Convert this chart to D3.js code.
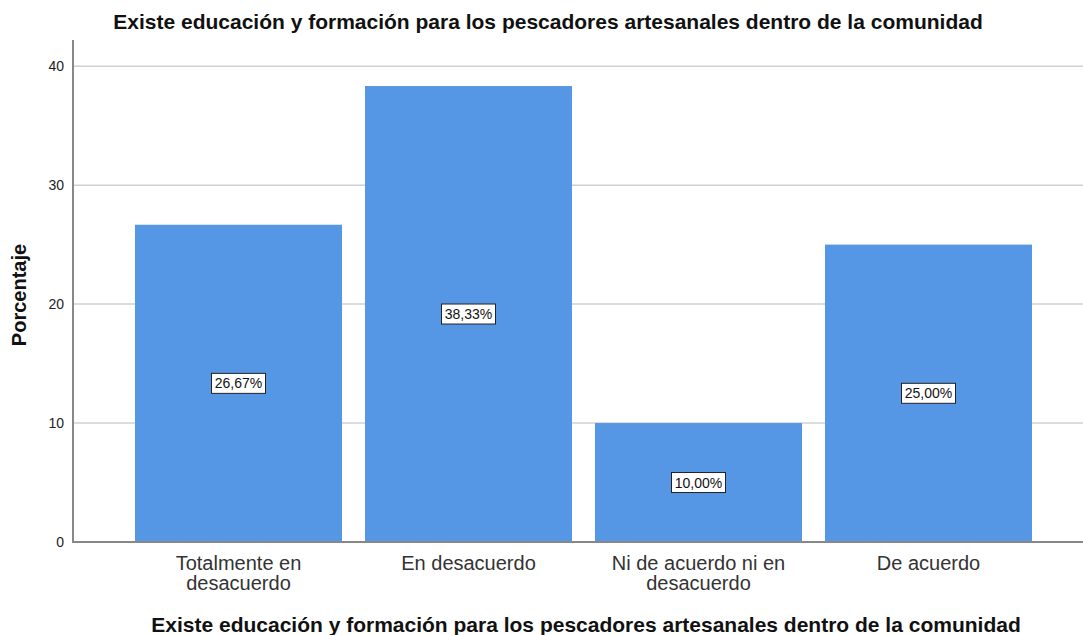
<!DOCTYPE html>
<html>
<head>
<meta charset="utf-8">
<script src="https://cdn.jsdelivr.net/npm/d3@7"></script>
<style>
  body { margin: 0; background: #fff; }
  text { font-family: Arial, "Liberation Sans", sans-serif; }
</style>
</head>
<body>
<svg width="1083" height="635"></svg>
<script>
const categories = [["Totalmente en", "desacuerdo"], ["En desacuerdo"], ["Ni de acuerdo ni en", "desacuerdo"], ["De acuerdo"]];
const values = [26.67, 38.33, 10.00, 25.00];
const yTicks = [0, 10, 20, 30, 40];
const title = "Existe educación y formación para los pescadores artesanales dentro de la comunidad";

const svg = d3.select("svg");
const y = d3.scaleLinear().domain([0, 42.2]).range([542, 40]);
const x = d3.scaleBand().domain(d3.range(values.length)).range([123.5, 1043.5])
  .paddingInner(0.1).paddingOuter(0.05);

// grid
svg.append("g").selectAll("line").data(yTicks.filter(d => d > 0)).join("line")
  .attr("x1", 74).attr("x2", 1083)
  .attr("y1", d => y(d)).attr("y2", d => y(d))
  .attr("stroke", "#d0d0d0").attr("stroke-width", 1.5);

// bars
svg.append("g").selectAll("rect").data(values).join("rect")
  .attr("x", (d, i) => x(i)).attr("width", x.bandwidth())
  .attr("y", d => y(d)).attr("height", d => y(0) - y(d))
  .attr("fill", "#5596e5");

// axes lines
svg.append("line").attr("x1", 73).attr("x2", 73).attr("y1", 40).attr("y2", y(0))
  .attr("stroke", "#888").attr("stroke-width", 2);
svg.append("line").attr("x1", 72).attr("x2", 1083).attr("y1", y(0)).attr("y2", y(0))
  .attr("stroke", "#888").attr("stroke-width", 2);

// y tick labels
svg.append("g").selectAll("text").data(yTicks).join("text")
  .attr("x", 64).attr("y", d => y(d) + 5)
  .attr("text-anchor", "end").attr("font-size", 14).attr("fill", "#222")
  .text(d => d);

// value labels
const lab = svg.append("g").selectAll("g").data(values).join("g")
  .attr("transform", (d, i) => `translate(${x(i) + x.bandwidth() / 2},${y(d / 2)})`);
lab.append("rect").attr("x", -27).attr("y", -10).attr("width", 54).attr("height", 20)
  .attr("fill", "#fff").attr("stroke", "#222").attr("stroke-width", 1);
lab.append("text").attr("y", 5).attr("text-anchor", "middle").attr("font-size", 14)
  .attr("fill", "#111")
  .text(d => d.toFixed(2).replace(".", ",") + "%");

// category labels
const cat = svg.append("g").selectAll("text").data(categories).join("text")
  .attr("text-anchor", "middle").attr("font-size", 20).attr("fill", "#333")
  .attr("transform", (d, i) => `translate(${x(i) + x.bandwidth() / 2},570)`);
cat.selectAll("tspan").data(d => d).join("tspan")
  .attr("x", 0).attr("dy", (d, i) => i === 0 ? 0 : 20).text(d => d);

// titles
svg.append("text").attr("x", 548).attr("y", 29).attr("text-anchor", "middle")
  .attr("font-size", 21).attr("font-weight", "bold").attr("fill", "#111").text(title);
svg.append("text").attr("x", 586).attr("y", 632).attr("text-anchor", "middle")
  .attr("font-size", 21).attr("font-weight", "bold").attr("fill", "#111").text(title);
svg.append("text").attr("transform", "translate(26,295) rotate(-90)").attr("text-anchor", "middle")
  .attr("font-size", 20).attr("font-weight", "bold").attr("fill", "#111").text("Porcentaje");
</script>
</body>
</html>
